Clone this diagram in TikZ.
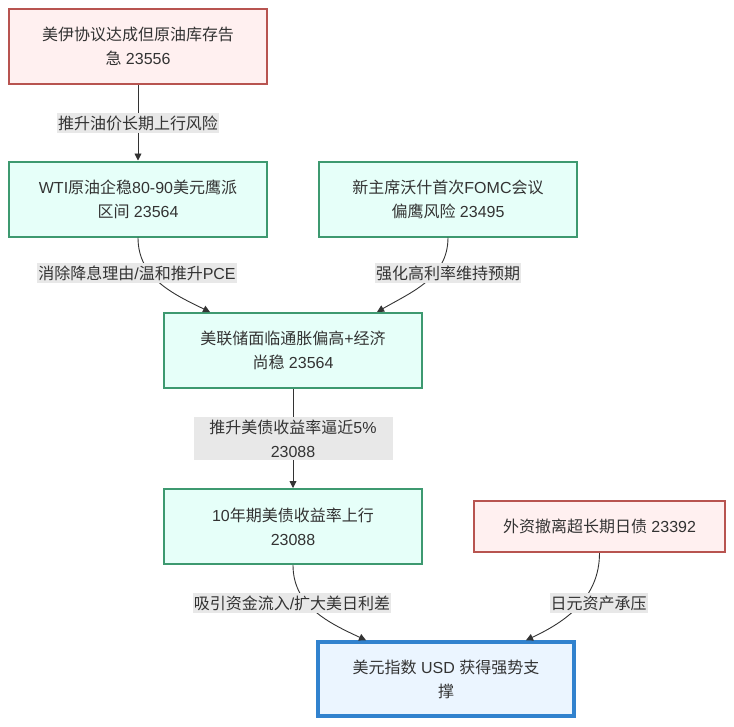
\documentclass[tikz,border=0pt]{standalone}
\usepackage{fontspec}
\setmainfont{Liberation Sans}
\newfontfamily\latinfont{Liberation Sans}
\newfontfamily\cjkfont{Noto Sans CJK SC}
% switch to the CJK font for ideographs only
\XeTeXinterchartokenstate=1
\newXeTeXintercharclass\cjkclass
\count255="4E00
\loop \XeTeXcharclass\count255=\cjkclass \advance\count255 by 1 \ifnum\count255<"A000 \repeat
\XeTeXinterchartoks 0 \cjkclass = {\cjkfont}
\XeTeXinterchartoks 4095 \cjkclass = {\cjkfont}
\XeTeXinterchartoks \cjkclass 0 = {\latinfont}
\XeTeXinterchartoks \cjkclass 4095 = {\latinfont}
\usepackage{tikz}
\usetikzlibrary{positioning, calc, arrows.meta}
\definecolor{txtgray}{HTML}{333333}
\definecolor{riskline}{HTML}{B85450}
\definecolor{riskfill}{HTML}{FFF0F0}
\definecolor{factline}{HTML}{3D9970}
\definecolor{factfill}{HTML}{E6FFF9}
\definecolor{endline}{HTML}{3182CE}
\definecolor{endfill}{HTML}{EBF5FF}
\definecolor{labelfill}{HTML}{E8E8E8}
\definecolor{linkgray}{HTML}{333333}

\begin{document}
\begin{tikzpicture}[x=1pt, y=-1pt,
					every node/.style={font=\fontsize{16}{24}\selectfont, text=txtgray, align=center},
					riskbox/.style={draw=riskline, fill=riskfill, line width=2pt, minimum width=258pt, minimum height=75pt},
					factbox/.style={draw=factline, fill=factfill, line width=2pt, minimum width=258pt, minimum height=75pt},
					endbox/.style={draw=endline, fill=endfill, line width=3.5pt, minimum width=256pt, minimum height=74pt},
					edgelabel/.style={fill=labelfill, inner xsep=1pt, inner ysep=2.5pt},
					link/.style={draw=linkgray, line width=0.9pt, -{Triangle[length=7pt,width=7pt]}}]
					\useasboundingbox (0,0) rectangle (734,726);
					% boxes
					\node[riskbox] (oil) at (138,46.5) {美伊协议达成但原油库存告\\急 23556};
					\node[factbox] (wti) at (138,199) {WTI原油企稳80-90美元鹰派\\区间 23564};
					\node[factbox] (chair) at (448,199) {新主席沃什首次FOMC会议\\偏鹰风险 23495};
					\node[factbox] (fed) at (293,350.5) {美联储面临通胀偏高+经济\\尚稳 23564};
					\node[factbox] (yield) at (293,526.5) {10年期美债收益率上行\\23088};
					\node[riskbox, minimum width=251pt, minimum height=51pt] (jgb) at (599.5,526.5) {外资撤离超长期日债 23392};
					\node[endbox] (usd) at (446,679) {美元指数 USD 获得强势支\\撑};
					% links
					\draw[link] (oil) -- (wti);
					\draw[link] (wti.south) to[out=-90, in=154] ($(fed.north)+(-83,0)$);
					\draw[link] (chair.south) to[out=-90, in=30] ($(fed.north)+(84,0)$);
					\draw[link] (fed) -- (yield);
					\draw[link] (yield.south) to[out=-90, in=155] ($(usd.north)+(-80,0)$);
					\draw[link] (jgb.south) to[out=-90, in=25] ($(usd.north)+(80,0)$);
					% link labels
					\node[edgelabel] (l1) at (138,123) {推升油价长期上行风险};
					\node[edgelabel] (l2) at (137,273) {消除降息理由/温和推升PCE};
					\node[edgelabel] (l3) at (448,273) {强化高利率维持预期};
					\node[edgelabel, minimum width=199pt] (l4) at (293,438.5) {推升美债收益率逼近5\%\\23088};
					\node[edgelabel] (l5) at (292,603) {吸引资金流入/扩大美日利差};
					\node[edgelabel] (l6) at (598.5,603) {日元资产承压};
				\end{tikzpicture}
\end{document}
